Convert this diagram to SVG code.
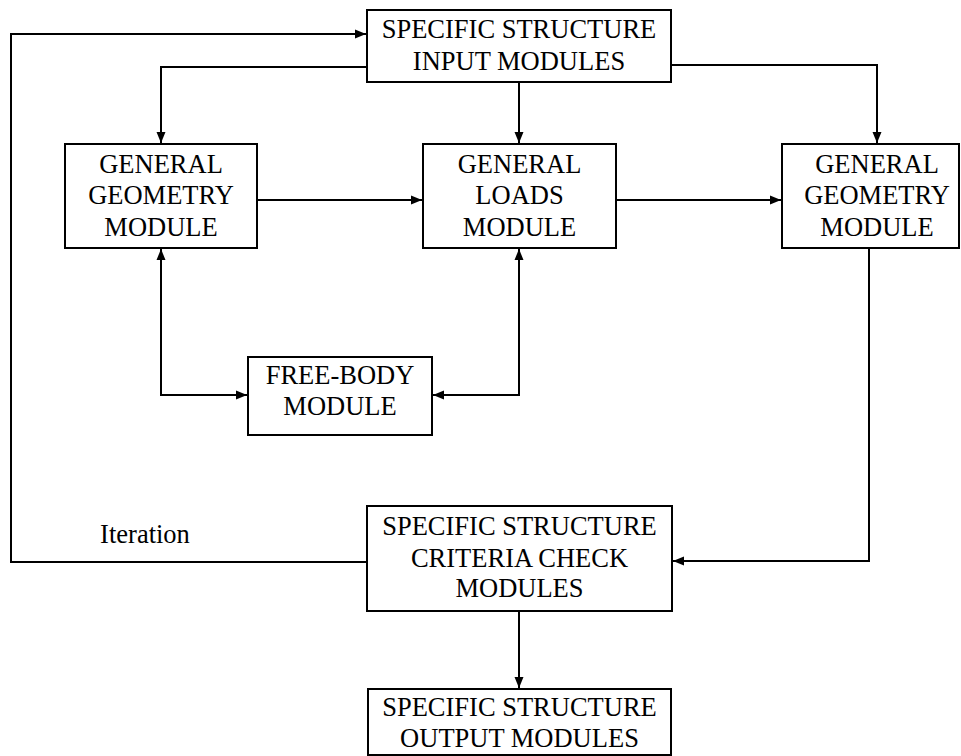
<svg xmlns="http://www.w3.org/2000/svg" width="961" height="756" viewBox="0 0 961 756">
<style>
.box{fill:#fff;stroke:#000;stroke-width:2}
.t{font-family:"Liberation Serif","Times New Roman",serif;font-size:26.5px;fill:#000;text-anchor:middle}
.c{fill:none;stroke:#000;stroke-width:2}
</style>
<defs>
<marker id="ah" viewBox="0 0 11 10" refX="11" refY="5" markerWidth="11" markerHeight="10" markerUnits="userSpaceOnUse" orient="auto-start-reverse">
<path d="M0,0.5 L11,5 L0,9.5 Z" fill="#000"/>
</marker>
</defs>
<rect width="961" height="756" fill="#fff"/>
<g id="connectors">
<polyline class="c" points="367,562 11,562 11,34 366,34" marker-end="url(#ah)"/>
<polyline class="c" points="367,67 161,67 161,143" marker-end="url(#ah)"/>
<line class="c" x1="519" y1="82" x2="519" y2="143" marker-end="url(#ah)"/>
<polyline class="c" points="671,65 877,65 877,143" marker-end="url(#ah)"/>
<line class="c" x1="257" y1="200" x2="422" y2="200" marker-end="url(#ah)"/>
<line class="c" x1="616" y1="200" x2="781" y2="200" marker-end="url(#ah)"/>
<polyline class="c" points="161,249 161,395 247,395" marker-start="url(#ah)" marker-end="url(#ah)"/>
<polyline class="c" points="519,249 519,395 433,395" marker-start="url(#ah)" marker-end="url(#ah)"/>
<polyline class="c" points="869,248 869,561 673,561" marker-end="url(#ah)"/>
<line class="c" x1="519" y1="611" x2="519" y2="688" marker-end="url(#ah)"/>
</g>
<g id="input">
<rect class="box" x="367" y="10" width="304" height="72"/>
<text class="t" x="519" y="38">SPECIFIC STRUCTURE</text>
<text class="t" x="519" y="70">INPUT MODULES</text>
</g>
<g id="geometry1">
<rect class="box" x="65" y="144" width="192" height="104"/>
<text class="t" x="161" y="173">GENERAL</text>
<text class="t" x="161" y="204">GEOMETRY</text>
<text class="t" x="161" y="236">MODULE</text>
</g>
<g id="loads">
<rect class="box" x="423" y="144" width="193" height="104"/>
<text class="t" x="519.5" y="173">GENERAL</text>
<text class="t" x="519.5" y="204">LOADS</text>
<text class="t" x="519.5" y="236">MODULE</text>
</g>
<g id="geometry2">
<rect class="box" x="782" y="144" width="177" height="104"/>
<text class="t" x="877" y="173">GENERAL</text>
<text class="t" x="877" y="204">GEOMETRY</text>
<text class="t" x="877" y="236">MODULE</text>
</g>
<g id="freebody">
<rect class="box" x="248" y="357" width="184" height="78"/>
<text class="t" x="340" y="384">FREE-BODY</text>
<text class="t" x="340" y="415">MODULE</text>
</g>
<g id="criteria">
<rect class="box" x="367" y="506" width="305" height="105"/>
<text class="t" x="519.5" y="535">SPECIFIC STRUCTURE</text>
<text class="t" x="519.5" y="567">CRITERIA CHECK</text>
<text class="t" x="519.5" y="597">MODULES</text>
</g>
<g id="output">
<rect class="box" x="368" y="689" width="303" height="66"/>
<text class="t" x="519.5" y="716">SPECIFIC STRUCTURE</text>
<text class="t" x="519.5" y="747">OUTPUT MODULES</text>
</g>
<g id="iteration-label">
<text class="t" x="145" y="543">Iteration</text>
</g>
</svg>
